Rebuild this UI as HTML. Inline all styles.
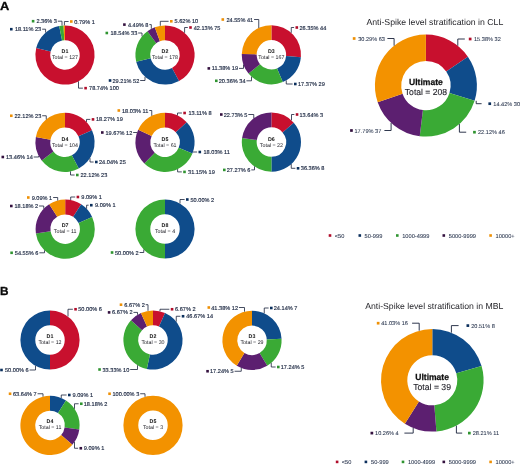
<!DOCTYPE html>
<html><head><meta charset="utf-8"><title>Anti-Spike level stratification</title>
<style>
html,body{margin:0;padding:0;background:#fff;}
body{width:520px;height:465px;overflow:hidden;font-family:"Liberation Sans",sans-serif;}
svg{display:block;will-change:transform;text-rendering:geometricPrecision;font-family:"Liberation Sans",sans-serif;}
.l{fill:#1b2741;stroke:#1b2741;stroke-width:0.15px;}
.m{fill:#1d2a44;stroke:#1d2a44;stroke-width:0.06px;}
</style></head><body>
<svg width="520" height="465" viewBox="0 0 520 465">
<rect width="520" height="465" fill="#ffffff"/>
<path d="M65 25.4A29.6 29.6 0 1 1 36.21 48.11L50.66 51.57A14.75 14.75 0 1 0 65 40.25Z" fill="#c8102e"/>
<path d="M36.21 48.11A29.6 29.6 0 0 1 59.18 25.98L62.1 40.54A14.75 14.75 0 0 0 50.66 51.57Z" fill="#0f4c8b"/>
<path d="M59.18 25.98A29.6 29.6 0 0 1 63.54 25.44L64.27 40.27A14.75 14.75 0 0 0 62.1 40.54Z" fill="#3aaa35"/>
<path d="M63.54 25.44A29.6 29.6 0 0 1 65 25.4L65 40.25A14.75 14.75 0 0 0 64.27 40.27Z" fill="#f39200"/>
<text x="65" y="52.81" font-size="5.3" font-weight="bold" text-anchor="middle" fill="#111">D1</text>
<text x="65" y="58.81" font-size="5.3" text-anchor="middle" fill="#1a1a22">Total = 127</text>
<rect x="31.8" y="19.9" width="2.6" height="2.6" fill="#2f9430"/>
<text x="36.4" y="23.22" font-size="5.6" class="l">2.36% 3</text>
<polyline points="57.85,21.2 62,21.2 62,25.55" fill="none" stroke="#18213a" stroke-width="0.8"/>
<rect x="70" y="20.2" width="2.6" height="2.6" fill="#ee9005"/>
<text x="74.25" y="23.52" font-size="5.6" class="l">0.79% 1</text>
<polyline points="68.6,21.5 64.4,21.5 64.4,25.41" fill="none" stroke="#18213a" stroke-width="0.8"/>
<rect x="10" y="27.9" width="2.6" height="2.6" fill="#0b2f5c"/>
<text x="14.9" y="31.22" font-size="5.6" class="l">18.11% 23</text>
<polyline points="42.16,29.2 45.6,29.2 45.6,32.64" fill="none" stroke="#18213a" stroke-width="0.8"/>
<rect x="84.3" y="86.85" width="2.6" height="2.6" fill="#b00c2a"/>
<text x="89.1" y="90.17" font-size="5.6" class="l">78.74% 100</text>
<polyline points="82.9,88.15 78.5,88.15 78.5,81.34" fill="none" stroke="#18213a" stroke-width="0.8"/>
<path d="M165 25.4A29.6 29.6 0 0 1 179.04 81.06L172 67.99A14.75 14.75 0 0 0 165 40.25Z" fill="#c8102e"/>
<path d="M179.04 81.06A29.6 29.6 0 0 1 136.18 61.73L150.64 58.35A14.75 14.75 0 0 0 172 67.99Z" fill="#0f4c8b"/>
<path d="M136.18 61.73A29.6 29.6 0 0 1 147.43 31.18L156.25 43.13A14.75 14.75 0 0 0 150.64 58.35Z" fill="#3aaa35"/>
<path d="M147.43 31.18A29.6 29.6 0 0 1 154.77 27.23L159.9 41.16A14.75 14.75 0 0 0 156.25 43.13Z" fill="#5c1f70"/>
<path d="M154.77 27.23A29.6 29.6 0 0 1 165 25.4L165 40.25A14.75 14.75 0 0 0 159.9 41.16Z" fill="#f39200"/>
<text x="165" y="52.81" font-size="5.3" font-weight="bold" text-anchor="middle" fill="#111">D2</text>
<text x="165" y="58.81" font-size="5.3" text-anchor="middle" fill="#1a1a22">Total = 178</text>
<rect x="170" y="20" width="2.6" height="2.6" fill="#ee9005"/>
<text x="174.6" y="23.32" font-size="5.6" class="l">5.62% 10</text>
<polyline points="168.6,21.3 160.3,21.3 160.3,25.78" fill="none" stroke="#18213a" stroke-width="0.8"/>
<rect x="189.2" y="26.2" width="2.6" height="2.6" fill="#b00c2a"/>
<text x="193.7" y="29.52" font-size="5.6" class="l">42.13% 75</text>
<polyline points="187.8,27.5 184.6,27.5 184.6,32.82" fill="none" stroke="#18213a" stroke-width="0.8"/>
<rect x="123.1" y="23.3" width="2.6" height="2.6" fill="#34113f"/>
<text x="127.9" y="26.62" font-size="5.6" class="l">4.49% 8</text>
<polyline points="149.35,24.6 151.3,24.6 151.3,28.76" fill="none" stroke="#18213a" stroke-width="0.8"/>
<rect x="105.5" y="31.7" width="2.6" height="2.6" fill="#2f9430"/>
<text x="110.5" y="35.02" font-size="5.6" class="l">18.54% 33</text>
<polyline points="138.18,33 142,33 142,36.37" fill="none" stroke="#18213a" stroke-width="0.8"/>
<rect x="108.75" y="79.2" width="2.6" height="2.6" fill="#0b2f5c"/>
<text x="112.5" y="82.52" font-size="5.6" class="l">29.21% 52</text>
<polyline points="140.18,80.5 145,80.5 145,76.82" fill="none" stroke="#18213a" stroke-width="0.8"/>
<path d="M271.4 25.2A29.6 29.6 0 0 1 300.89 57.3L286.1 56.05A14.75 14.75 0 0 0 271.4 40.05Z" fill="#c8102e"/>
<path d="M300.89 57.3A29.6 29.6 0 0 1 282.79 82.12L277.08 68.41A14.75 14.75 0 0 0 286.1 56.05Z" fill="#0f4c8b"/>
<path d="M282.79 82.12A29.6 29.6 0 0 1 248.51 73.56L259.99 64.15A14.75 14.75 0 0 0 277.08 68.41Z" fill="#3aaa35"/>
<path d="M248.51 73.56A29.6 29.6 0 0 1 241.81 53.96L256.66 54.38A14.75 14.75 0 0 0 259.99 64.15Z" fill="#5c1f70"/>
<path d="M241.81 53.96A29.6 29.6 0 0 1 271.4 25.2L271.4 40.05A14.75 14.75 0 0 0 256.66 54.38Z" fill="#f39200"/>
<text x="271.4" y="52.61" font-size="5.3" font-weight="bold" text-anchor="middle" fill="#111">D3</text>
<text x="271.4" y="58.61" font-size="5.3" text-anchor="middle" fill="#1a1a22">Total = 167</text>
<rect x="221.5" y="18.2" width="2.6" height="2.6" fill="#ee9005"/>
<text x="226.4" y="21.52" font-size="5.6" class="l">24.55% 41</text>
<polyline points="254.08,19.5 258.75,19.5 258.75,28.04" fill="none" stroke="#18213a" stroke-width="0.8"/>
<rect x="295.5" y="26.2" width="2.6" height="2.6" fill="#b00c2a"/>
<text x="299.5" y="29.52" font-size="5.6" class="l">26.35% 44</text>
<polyline points="294.1,27.5 291.25,27.5 291.25,32.84" fill="none" stroke="#18213a" stroke-width="0.8"/>
<rect x="207.5" y="67.1" width="2.6" height="2.6" fill="#34113f"/>
<text x="211.75" y="70.42" font-size="5.6" class="l">11.38% 19</text>
<polyline points="239.01,68.4 243.5,68.4 243.5,64.69" fill="none" stroke="#18213a" stroke-width="0.8"/>
<rect x="215" y="79.5" width="2.6" height="2.6" fill="#2f9430"/>
<text x="218.75" y="82.82" font-size="5.6" class="l">20.36% 34</text>
<polyline points="246.43,80.8 251.5,80.8 251.5,76.71" fill="none" stroke="#18213a" stroke-width="0.8"/>
<rect x="294" y="82.7" width="2.6" height="2.6" fill="#0b2f5c"/>
<text x="298" y="86.02" font-size="5.6" class="l">17.37% 29</text>
<polyline points="292.6,84 286.25,84 286.25,80.41" fill="none" stroke="#18213a" stroke-width="0.8"/>
<path d="M65 112.7A29.6 29.6 0 0 1 91.99 130.15L78.45 136.25A14.75 14.75 0 0 0 65 127.55Z" fill="#c8102e"/>
<path d="M91.99 130.15A29.6 29.6 0 0 1 78.76 168.51L71.85 155.36A14.75 14.75 0 0 0 78.45 136.25Z" fill="#0f4c8b"/>
<path d="M78.76 168.51A29.6 29.6 0 0 1 41.7 160.55L53.39 151.4A14.75 14.75 0 0 0 71.85 155.36Z" fill="#3aaa35"/>
<path d="M41.7 160.55A29.6 29.6 0 0 1 35.88 136.96L50.49 139.64A14.75 14.75 0 0 0 53.39 151.4Z" fill="#5c1f70"/>
<path d="M35.88 136.96A29.6 29.6 0 0 1 65 112.7L65 127.55A14.75 14.75 0 0 0 50.49 139.64Z" fill="#f39200"/>
<text x="65" y="140.71" font-size="5.3" font-weight="bold" text-anchor="middle" fill="#111">D4</text>
<text x="65" y="146.71" font-size="5.3" text-anchor="middle" fill="#1a1a22">Total = 104</text>
<rect x="10" y="114.45" width="2.6" height="2.6" fill="#ee9005"/>
<text x="14.5" y="117.77" font-size="5.6" class="l">22.12% 23</text>
<polyline points="42.18,115.75 46.25,115.75 46.25,119.4" fill="none" stroke="#18213a" stroke-width="0.8"/>
<rect x="91.7" y="118.1" width="2.6" height="2.6" fill="#b00c2a"/>
<text x="96" y="121.42" font-size="5.6" class="l">18.27% 19</text>
<polyline points="90.3,119.4 86.5,119.4 86.5,121.96" fill="none" stroke="#18213a" stroke-width="0.8"/>
<rect x="1.5" y="155.7" width="2.6" height="2.6" fill="#34113f"/>
<text x="6" y="159.02" font-size="5.6" class="l">13.46% 14</text>
<polyline points="33.68,157 38.75,157 38.75,155.98" fill="none" stroke="#18213a" stroke-width="0.8"/>
<rect x="95" y="160.7" width="2.6" height="2.6" fill="#0b2f5c"/>
<text x="99" y="164.02" font-size="5.6" class="l">24.04% 25</text>
<polyline points="93.6,162 90,162 90,158.15" fill="none" stroke="#18213a" stroke-width="0.8"/>
<rect x="76" y="173.7" width="2.6" height="2.6" fill="#2f9430"/>
<text x="80.5" y="177.02" font-size="5.6" class="l">22.12% 23</text>
<polyline points="74.6,175 70.5,175 70.5,171.38" fill="none" stroke="#18213a" stroke-width="0.8"/>
<path d="M165 112.7A29.6 29.6 0 0 1 186.72 122.19L175.82 132.28A14.75 14.75 0 0 0 165 127.55Z" fill="#c8102e"/>
<path d="M186.72 122.19A29.6 29.6 0 0 1 192.42 153.45L178.66 147.86A14.75 14.75 0 0 0 175.82 132.28Z" fill="#0f4c8b"/>
<path d="M192.42 153.45A29.6 29.6 0 0 1 144.34 163.5L154.71 152.86A14.75 14.75 0 0 0 178.66 147.86Z" fill="#3aaa35"/>
<path d="M144.34 163.5A29.6 29.6 0 0 1 138.19 129.75L151.64 136.05A14.75 14.75 0 0 0 154.71 152.86Z" fill="#5c1f70"/>
<path d="M138.19 129.75A29.6 29.6 0 0 1 165 112.7L165 127.55A14.75 14.75 0 0 0 151.64 136.05Z" fill="#f39200"/>
<text x="165" y="140.71" font-size="5.3" font-weight="bold" text-anchor="middle" fill="#111">D5</text>
<text x="165" y="146.71" font-size="5.3" text-anchor="middle" fill="#1a1a22">Total = 61</text>
<rect x="117.5" y="109.2" width="2.6" height="2.6" fill="#ee9005"/>
<text x="122" y="112.52" font-size="5.6" class="l">18.03% 11</text>
<polyline points="149.26,110.5 151.75,110.5 151.75,115.83" fill="none" stroke="#18213a" stroke-width="0.8"/>
<rect x="183.3" y="111.7" width="2.6" height="2.6" fill="#b00c2a"/>
<text x="188.4" y="115.02" font-size="5.6" class="l">13.11% 8</text>
<polyline points="181.9,113 177.5,113 177.5,115.47" fill="none" stroke="#18213a" stroke-width="0.8"/>
<rect x="101" y="131.2" width="2.6" height="2.6" fill="#34113f"/>
<text x="105.5" y="134.52" font-size="5.6" class="l">19.67% 12</text>
<polyline points="133.18,132.5 137.07,132.5" fill="none" stroke="#18213a" stroke-width="0.8"/>
<rect x="198.5" y="150.7" width="2.6" height="2.6" fill="#0b2f5c"/>
<text x="203.5" y="154.02" font-size="5.6" class="l">18.03% 11</text>
<polyline points="197.1,152 192.97,152" fill="none" stroke="#18213a" stroke-width="0.8"/>
<rect x="183.2" y="170.6" width="2.6" height="2.6" fill="#2f9430"/>
<text x="188.1" y="173.92" font-size="5.6" class="l">31.15% 19</text>
<polyline points="181.8,171.9 177.6,171.9 177.6,169.08" fill="none" stroke="#18213a" stroke-width="0.8"/>
<path d="M271.4 112.5A29.6 29.6 0 0 1 293.77 122.72L282.55 132.44A14.75 14.75 0 0 0 271.4 127.35Z" fill="#c8102e"/>
<path d="M293.77 122.72A29.6 29.6 0 0 1 271.4 171.7L271.4 156.85A14.75 14.75 0 0 0 282.55 132.44Z" fill="#0f4c8b"/>
<path d="M271.4 171.7A29.6 29.6 0 0 1 242.1 137.89L256.8 140A14.75 14.75 0 0 0 271.4 156.85Z" fill="#3aaa35"/>
<path d="M242.1 137.89A29.6 29.6 0 0 1 271.4 112.5L271.4 127.35A14.75 14.75 0 0 0 256.8 140Z" fill="#5c1f70"/>
<text x="271.4" y="140.51" font-size="5.3" font-weight="bold" text-anchor="middle" fill="#111">D6</text>
<text x="271.4" y="146.51" font-size="5.3" text-anchor="middle" fill="#1a1a22">Total = 22</text>
<rect x="220" y="113.2" width="2.6" height="2.6" fill="#34113f"/>
<text x="223.75" y="116.52" font-size="5.6" class="l">22.73% 5</text>
<polyline points="248.31,114.5 253.75,114.5 253.75,118.34" fill="none" stroke="#18213a" stroke-width="0.8"/>
<rect x="295.75" y="113.2" width="2.6" height="2.6" fill="#b00c2a"/>
<text x="299.5" y="116.52" font-size="5.6" class="l">13.64% 3</text>
<polyline points="294.35,114.5 291.5,114.5 291.5,120.37" fill="none" stroke="#18213a" stroke-width="0.8"/>
<rect x="223" y="168.6" width="2.6" height="2.6" fill="#2f9430"/>
<text x="226.75" y="171.92" font-size="5.6" class="l">27.27% 6</text>
<polyline points="251.31,169.9 254.5,169.9 254.5,166.4" fill="none" stroke="#18213a" stroke-width="0.8"/>
<rect x="296.75" y="167" width="2.6" height="2.6" fill="#0b2f5c"/>
<text x="300.8" y="170.32" font-size="5.6" class="l">36.36% 8</text>
<polyline points="295.35,168.3 291.25,168.3 291.25,164.06" fill="none" stroke="#18213a" stroke-width="0.8"/>
<path d="M65.2 199.6A29.6 29.6 0 0 1 81.2 204.3L73.17 216.79A14.75 14.75 0 0 0 65.2 214.45Z" fill="#c8102e"/>
<path d="M81.2 204.3A29.6 29.6 0 0 1 92.13 216.9L78.62 223.07A14.75 14.75 0 0 0 73.17 216.79Z" fill="#0f4c8b"/>
<path d="M92.13 216.9A29.6 29.6 0 1 1 35.9 233.41L50.6 231.3A14.75 14.75 0 1 0 78.62 223.07Z" fill="#3aaa35"/>
<path d="M35.9 233.41A29.6 29.6 0 0 1 49.2 204.3L57.23 216.79A14.75 14.75 0 0 0 50.6 231.3Z" fill="#5c1f70"/>
<path d="M49.2 204.3A29.6 29.6 0 0 1 65.2 199.6L65.2 214.45A14.75 14.75 0 0 0 57.23 216.79Z" fill="#f39200"/>
<text x="65.2" y="227.01" font-size="5.3" font-weight="bold" text-anchor="middle" fill="#111">D7</text>
<text x="65.2" y="233.01" font-size="5.3" text-anchor="middle" fill="#1a1a22">Total = 11</text>
<rect x="27" y="196.2" width="2.6" height="2.6" fill="#ee9005"/>
<text x="31.7" y="199.52" font-size="5.6" class="l">9.09% 1</text>
<polyline points="53.15,197.5 57.7,197.5 57.7,200.57" fill="none" stroke="#18213a" stroke-width="0.8"/>
<rect x="76.6" y="195.7" width="2.6" height="2.6" fill="#b00c2a"/>
<text x="81.3" y="199.02" font-size="5.6" class="l">9.09% 1</text>
<polyline points="75.2,197 70.7,197 70.7,200.12" fill="none" stroke="#18213a" stroke-width="0.8"/>
<rect x="10" y="204.7" width="2.6" height="2.6" fill="#34113f"/>
<text x="14.5" y="208.02" font-size="5.6" class="l">18.18% 2</text>
<polyline points="39.06,206 43.75,206 43.75,208.8" fill="none" stroke="#18213a" stroke-width="0.8"/>
<rect x="90" y="203.9" width="2.6" height="2.6" fill="#0b2f5c"/>
<text x="95" y="207.22" font-size="5.6" class="l">9.09% 1</text>
<polyline points="88.6,205.2 86.6,205.2 86.6,208.75" fill="none" stroke="#18213a" stroke-width="0.8"/>
<rect x="10.3" y="251.5" width="2.6" height="2.6" fill="#2f9430"/>
<text x="14.8" y="254.82" font-size="5.6" class="l">54.55% 6</text>
<polyline points="39.36,252.8 44.5,252.8 44.5,250.36" fill="none" stroke="#18213a" stroke-width="0.8"/>
<path d="M165 199.4A29.6 29.6 0 0 1 165 258.6L165 243.75A14.75 14.75 0 0 0 165 214.25Z" fill="#0f4c8b"/>
<path d="M165 258.6A29.6 29.6 0 0 1 165 199.4L165 214.25A14.75 14.75 0 0 0 165 243.75Z" fill="#3aaa35"/>
<text x="165" y="226.81" font-size="5.3" font-weight="bold" text-anchor="middle" fill="#111">D8</text>
<text x="165" y="232.81" font-size="5.3" text-anchor="middle" fill="#1a1a22">Total = 4</text>
<rect x="186" y="198.2" width="2.6" height="2.6" fill="#0b2f5c"/>
<text x="190.5" y="201.52" font-size="5.6" class="l">50.00% 2</text>
<polyline points="184.6,199.5 180,199.5 180,203.48" fill="none" stroke="#18213a" stroke-width="0.8"/>
<rect x="110.75" y="251.2" width="2.6" height="2.6" fill="#2f9430"/>
<text x="115" y="254.52" font-size="5.6" class="l">50.00% 2</text>
<polyline points="139.56,252.5 143.75,252.5 143.75,249.61" fill="none" stroke="#18213a" stroke-width="0.8"/>
<path d="M425.9 34.6A51 51 0 0 1 467.87 56.63L446.23 71.57A24.7 24.7 0 0 0 425.9 60.9Z" fill="#c8102e"/>
<path d="M467.87 56.63A51 51 0 0 1 474.59 100.77L449.48 92.95A24.7 24.7 0 0 0 446.23 71.57Z" fill="#0f4c8b"/>
<path d="M474.59 100.77A51 51 0 0 1 419.75 136.23L422.92 110.12A24.7 24.7 0 0 0 449.48 92.95Z" fill="#3aaa35"/>
<path d="M419.75 136.23A51 51 0 0 1 377.69 102.24L402.55 93.66A24.7 24.7 0 0 0 422.92 110.12Z" fill="#5c1f70"/>
<path d="M377.69 102.24A51 51 0 0 1 425.9 34.6L425.9 60.9A24.7 24.7 0 0 0 402.55 93.66Z" fill="#f39200"/>
<text x="409.05" y="84.87" font-size="8.8" font-weight="bold" textLength="33.7" lengthAdjust="spacingAndGlyphs" fill="#111" stroke="#111" stroke-width="0.25">Ultimate</text>
<text x="404.85" y="95.13" font-size="8.7" textLength="42.1" lengthAdjust="spacingAndGlyphs" fill="#1a1a22" stroke="#1a1a22" stroke-width="0.1">Total = 208</text>
<rect x="352.8" y="37.15" width="2.7" height="2.7" fill="#ee9005"/>
<text x="358.2" y="40.52" font-size="5.6" class="m">30.29% 63</text>
<polyline points="387.4,38.5 394.1,38.5 394.1,45.73" fill="none" stroke="#18213a" stroke-width="0.9"/>
<rect x="468.8" y="37.65" width="2.7" height="2.7" fill="#b00c2a"/>
<text x="474" y="41.02" font-size="5.6" class="m">15.38% 32</text>
<polyline points="464.8,39 457.8,39 457.8,45.81" fill="none" stroke="#18213a" stroke-width="0.9"/>
<rect x="488.4" y="102.35" width="2.7" height="2.7" fill="#0b2f5c"/>
<text x="493.3" y="105.72" font-size="5.6" class="m">14.42% 30</text>
<polyline points="481.6,103.7 476.2,103.7 476.2,100.8" fill="none" stroke="#18213a" stroke-width="0.9"/>
<rect x="350.1" y="129.15" width="2.7" height="2.7" fill="#34113f"/>
<text x="354.5" y="132.52" font-size="5.6" class="m">17.79% 37</text>
<polyline points="384.4,130.5 391.1,130.5 391.1,122.88" fill="none" stroke="#18213a" stroke-width="0.9"/>
<rect x="473.1" y="130.85" width="2.7" height="2.7" fill="#2f9430"/>
<text x="478" y="134.22" font-size="5.6" class="m">22.12% 46</text>
<polyline points="466.2,132.2 459.4,132.2 459.4,124.05" fill="none" stroke="#18213a" stroke-width="0.9"/>
<path d="M50 310.4A29.6 29.6 0 0 1 50 369.6L50 354.75A14.75 14.75 0 0 0 50 325.25Z" fill="#c8102e"/>
<path d="M50 369.6A29.6 29.6 0 0 1 50 310.4L50 325.25A14.75 14.75 0 0 0 50 354.75Z" fill="#0f4c8b"/>
<text x="50" y="337.81" font-size="5.3" font-weight="bold" text-anchor="middle" fill="#111">D1</text>
<text x="50" y="343.81" font-size="5.3" text-anchor="middle" fill="#1a1a22">Total = 12</text>
<rect x="74.25" y="307.95" width="2.6" height="2.6" fill="#b00c2a"/>
<text x="78.25" y="311.27" font-size="5.6" class="l">50.00% 6</text>
<polyline points="72.85,309.25 68,309.25 68,316.5" fill="none" stroke="#18213a" stroke-width="0.8"/>
<rect x="0.2" y="368.7" width="2.6" height="2.6" fill="#0b2f5c"/>
<text x="5" y="372.02" font-size="5.6" class="l">50.00% 6</text>
<polyline points="29.56,370 35.5,370 35.5,365.81" fill="none" stroke="#18213a" stroke-width="0.8"/>
<path d="M153 310.4A29.6 29.6 0 0 1 165.04 312.96L159 326.53A14.75 14.75 0 0 0 153 325.25Z" fill="#c8102e"/>
<path d="M165.04 312.96A29.6 29.6 0 0 1 146.85 368.95L149.93 354.43A14.75 14.75 0 0 0 159 326.53Z" fill="#0f4c8b"/>
<path d="M146.85 368.95A29.6 29.6 0 0 1 131 320.19L142.04 330.13A14.75 14.75 0 0 0 149.93 354.43Z" fill="#3aaa35"/>
<path d="M131 320.19A29.6 29.6 0 0 1 140.96 312.96L147 326.53A14.75 14.75 0 0 0 142.04 330.13Z" fill="#5c1f70"/>
<path d="M140.96 312.96A29.6 29.6 0 0 1 153 310.4L153 325.25A14.75 14.75 0 0 0 147 326.53Z" fill="#f39200"/>
<text x="153" y="337.81" font-size="5.3" font-weight="bold" text-anchor="middle" fill="#111">D2</text>
<text x="153" y="343.81" font-size="5.3" text-anchor="middle" fill="#1a1a22">Total = 30</text>
<rect x="119.7" y="303.4" width="2.6" height="2.6" fill="#ee9005"/>
<text x="124.25" y="306.72" font-size="5.6" class="l">6.67% 2</text>
<polyline points="145.7,304.7 148,304.7 148,310.83" fill="none" stroke="#18213a" stroke-width="0.8"/>
<rect x="170.75" y="307.95" width="2.6" height="2.6" fill="#b00c2a"/>
<text x="175" y="311.27" font-size="5.6" class="l">6.67% 2</text>
<polyline points="169.35,309.25 160,309.25 160,311.24" fill="none" stroke="#18213a" stroke-width="0.8"/>
<rect x="107.8" y="311.1" width="2.6" height="2.6" fill="#34113f"/>
<text x="112" y="314.42" font-size="5.6" class="l">6.67% 2</text>
<polyline points="133.45,312.4 137.5,312.4 137.5,314.78" fill="none" stroke="#18213a" stroke-width="0.8"/>
<rect x="181.75" y="314.95" width="2.6" height="2.6" fill="#0b2f5c"/>
<text x="186.25" y="318.27" font-size="5.6" class="l">46.67% 14</text>
<polyline points="180.35,316.25 176.25,316.25 176.25,321.68" fill="none" stroke="#18213a" stroke-width="0.8"/>
<rect x="98.25" y="368.2" width="2.6" height="2.6" fill="#2f9430"/>
<text x="102.5" y="371.52" font-size="5.6" class="l">33.33% 10</text>
<polyline points="130.18,369.5 137.5,369.5 137.5,365.22" fill="none" stroke="#18213a" stroke-width="0.8"/>
<path d="M252 310.7A29.6 29.6 0 0 1 281.56 338.7L266.73 339.5A14.75 14.75 0 0 0 252 325.55Z" fill="#0f4c8b"/>
<path d="M281.56 338.7A29.6 29.6 0 0 1 267.26 365.66L259.6 352.94A14.75 14.75 0 0 0 266.73 339.5Z" fill="#3aaa35"/>
<path d="M267.26 365.66A29.6 29.6 0 0 1 236.74 365.66L244.4 352.94A14.75 14.75 0 0 0 259.6 352.94Z" fill="#5c1f70"/>
<path d="M236.74 365.66A29.6 29.6 0 0 1 252 310.7L252 325.55A14.75 14.75 0 0 0 244.4 352.94Z" fill="#f39200"/>
<text x="252" y="338.11" font-size="5.3" font-weight="bold" text-anchor="middle" fill="#111">D3</text>
<text x="252" y="344.11" font-size="5.3" text-anchor="middle" fill="#1a1a22">Total = 29</text>
<rect x="207.5" y="306.2" width="2.6" height="2.6" fill="#ee9005"/>
<text x="211.25" y="309.52" font-size="5.6" class="l">41.38% 12</text>
<polyline points="238.93,307.5 244.5,307.5 244.5,311.67" fill="none" stroke="#18213a" stroke-width="0.8"/>
<rect x="270" y="306.7" width="2.6" height="2.6" fill="#0b2f5c"/>
<text x="273.75" y="310.02" font-size="5.6" class="l">24.14% 7</text>
<polyline points="268.6,308 264.25,308 264.25,313.35" fill="none" stroke="#18213a" stroke-width="0.8"/>
<rect x="277" y="365.7" width="2.6" height="2.6" fill="#2f9430"/>
<text x="280.75" y="369.02" font-size="5.6" class="l">17.24% 5</text>
<polyline points="275.6,367 271.25,367 271.25,362.79" fill="none" stroke="#18213a" stroke-width="0.8"/>
<rect x="206.25" y="369.95" width="2.6" height="2.6" fill="#34113f"/>
<text x="210" y="373.27" font-size="5.6" class="l">17.24% 5</text>
<polyline points="234.56,371.25 241.25,371.25 241.25,367.88" fill="none" stroke="#18213a" stroke-width="0.8"/>
<path d="M50 395.8A29.6 29.6 0 0 1 66 400.5L57.97 412.99A14.75 14.75 0 0 0 50 410.65Z" fill="#0f4c8b"/>
<path d="M66 400.5A29.6 29.6 0 0 1 79.3 429.61L64.6 427.5A14.75 14.75 0 0 0 57.97 412.99Z" fill="#3aaa35"/>
<path d="M79.3 429.61A29.6 29.6 0 0 1 72.37 444.78L61.15 435.06A14.75 14.75 0 0 0 64.6 427.5Z" fill="#5c1f70"/>
<path d="M72.37 444.78A29.6 29.6 0 1 1 50 395.8L50 410.65A14.75 14.75 0 1 0 61.15 435.06Z" fill="#f39200"/>
<text x="50" y="423.21" font-size="5.3" font-weight="bold" text-anchor="middle" fill="#111">D4</text>
<text x="50" y="429.21" font-size="5.3" text-anchor="middle" fill="#1a1a22">Total = 11</text>
<rect x="8.75" y="392.45" width="2.6" height="2.6" fill="#ee9005"/>
<text x="13" y="395.77" font-size="5.6" class="l">63.64% 7</text>
<polyline points="37.56,393.75 43,393.75 43,396.64" fill="none" stroke="#18213a" stroke-width="0.8"/>
<rect x="68" y="393.7" width="2.6" height="2.6" fill="#0b2f5c"/>
<text x="72.5" y="397.02" font-size="5.6" class="l">9.09% 1</text>
<polyline points="66.6,395 61.25,395 61.25,398.02" fill="none" stroke="#18213a" stroke-width="0.8"/>
<rect x="80" y="402.45" width="2.6" height="2.6" fill="#2f9430"/>
<text x="83.75" y="405.77" font-size="5.6" class="l">18.18% 2</text>
<polyline points="78.6,403.75 74.5,403.75 74.5,408.79" fill="none" stroke="#18213a" stroke-width="0.8"/>
<rect x="79.5" y="446.95" width="2.6" height="2.6" fill="#34113f"/>
<text x="83.75" y="450.27" font-size="5.6" class="l">9.09% 1</text>
<polyline points="78.1,448.25 74.5,448.25 74.5,442.01" fill="none" stroke="#18213a" stroke-width="0.8"/>
<circle cx="153" cy="425.3" r="22.18" fill="none" stroke="#f39200" stroke-width="14.85"/>
<text x="153" y="423.11" font-size="5.3" font-weight="bold" text-anchor="middle" fill="#111">D5</text>
<text x="153" y="429.11" font-size="5.3" text-anchor="middle" fill="#1a1a22">Total = 3</text>
<rect x="108.25" y="392.45" width="2.6" height="2.6" fill="#ee9005"/>
<text x="112.5" y="395.77" font-size="5.6" class="l">100.00% 3</text>
<polyline points="140.18,393.75 145,393.75 145,396.8" fill="none" stroke="#18213a" stroke-width="0.8"/>
<path d="M432.3 329A51.3 51.3 0 0 1 481.57 366.03L456.31 373.34A25 25 0 0 0 432.3 355.3Z" fill="#0f4c8b"/>
<path d="M481.57 366.03A51.3 51.3 0 0 1 436.43 431.43L434.31 405.22A25 25 0 0 0 456.31 373.34Z" fill="#3aaa35"/>
<path d="M436.43 431.43A51.3 51.3 0 0 1 404.88 423.66L418.94 401.43A25 25 0 0 0 434.31 405.22Z" fill="#5c1f70"/>
<path d="M404.88 423.66A51.3 51.3 0 0 1 432.3 329L432.3 355.3A25 25 0 0 0 418.94 401.43Z" fill="#f39200"/>
<text x="415.3" y="379.57" font-size="8.8" font-weight="bold" textLength="33.6" lengthAdjust="spacingAndGlyphs" fill="#111" stroke="#111" stroke-width="0.25">Ultimate</text>
<text x="413.25" y="389.83" font-size="8.7" textLength="37.7" lengthAdjust="spacingAndGlyphs" fill="#1a1a22" stroke="#1a1a22" stroke-width="0.1">Total = 39</text>
<rect x="376.8" y="321.85" width="2.7" height="2.7" fill="#ee9005"/>
<text x="381.2" y="325.22" font-size="5.6" class="m">41.03% 16</text>
<polyline points="412.1,323.2 419.2,323.2 419.2,330.7" fill="none" stroke="#18213a" stroke-width="0.9"/>
<rect x="466.5" y="324.25" width="2.7" height="2.7" fill="#0b2f5c"/>
<text x="471.2" y="327.62" font-size="5.6" class="m">20.51% 8</text>
<polyline points="458.6,325.6 451.4,325.6 451.4,332.69" fill="none" stroke="#18213a" stroke-width="0.9"/>
<rect x="468" y="431.75" width="2.7" height="2.7" fill="#2f9430"/>
<text x="472.7" y="435.12" font-size="5.6" class="m">28.21% 11</text>
<polyline points="462.2,433.1 456.4,433.1 456.4,425.59" fill="none" stroke="#18213a" stroke-width="0.9"/>
<rect x="370.5" y="431.75" width="2.7" height="2.7" fill="#34113f"/>
<text x="375.1" y="435.12" font-size="5.6" class="m">10.26% 4</text>
<polyline points="404.4,433.1 413.2,433.1 413.2,427.91" fill="none" stroke="#18213a" stroke-width="0.9"/>
<text x="366.4" y="24.7" font-size="8.6" textLength="136.9" lengthAdjust="spacingAndGlyphs" fill="#26262b">Anti-Spike level stratification in CLL</text>
<text x="365.2" y="309.1" font-size="8.6" textLength="138.2" lengthAdjust="spacingAndGlyphs" fill="#26262b">Anti-Spike level stratification in MBL</text>
<text x="-0.1" y="10.3" font-size="11.7" font-weight="bold" fill="#0a0a0a" stroke="#0a0a0a" stroke-width="0.3" textLength="9.3" lengthAdjust="spacingAndGlyphs">A</text>
<text x="0" y="295" font-size="11.8" font-weight="bold" fill="#0a0a0a" stroke="#0a0a0a" stroke-width="0.3">B</text>
<rect x="328.7" y="234.2" width="2.6" height="2.6" fill="#b00c2a"/>
<text x="334.8" y="237.55" font-size="5.7" class="m">&lt;50</text>
<rect x="358.5" y="234.2" width="2.6" height="2.6" fill="#0b2f5c"/>
<text x="364.6" y="237.55" font-size="5.7" class="m">50-999</text>
<rect x="396" y="234.2" width="2.6" height="2.6" fill="#2f9430"/>
<text x="402.2" y="237.55" font-size="5.7" class="m">1000-4999</text>
<rect x="442.5" y="234.2" width="2.6" height="2.6" fill="#34113f"/>
<text x="448.8" y="237.55" font-size="5.7" class="m">5000-9999</text>
<rect x="489.3" y="234.2" width="2.6" height="2.6" fill="#ee9005"/>
<text x="495.5" y="237.55" font-size="5.7" class="m">10000+</text>
<rect x="335.8" y="460.6" width="2.6" height="2.6" fill="#b00c2a"/>
<text x="341.7" y="463.95" font-size="5.7" class="m">&lt;50</text>
<rect x="364.6" y="460.6" width="2.6" height="2.6" fill="#0b2f5c"/>
<text x="371" y="463.95" font-size="5.7" class="m">50-999</text>
<rect x="401.7" y="460.6" width="2.6" height="2.6" fill="#2f9430"/>
<text x="407.9" y="463.95" font-size="5.7" class="m">1000-4999</text>
<rect x="442.5" y="460.6" width="2.6" height="2.6" fill="#34113f"/>
<text x="448.8" y="463.95" font-size="5.7" class="m">5000-9999</text>
<rect x="489.3" y="460.6" width="2.6" height="2.6" fill="#ee9005"/>
<text x="495.5" y="463.95" font-size="5.7" class="m">10000+</text>
</svg>
</body></html>
